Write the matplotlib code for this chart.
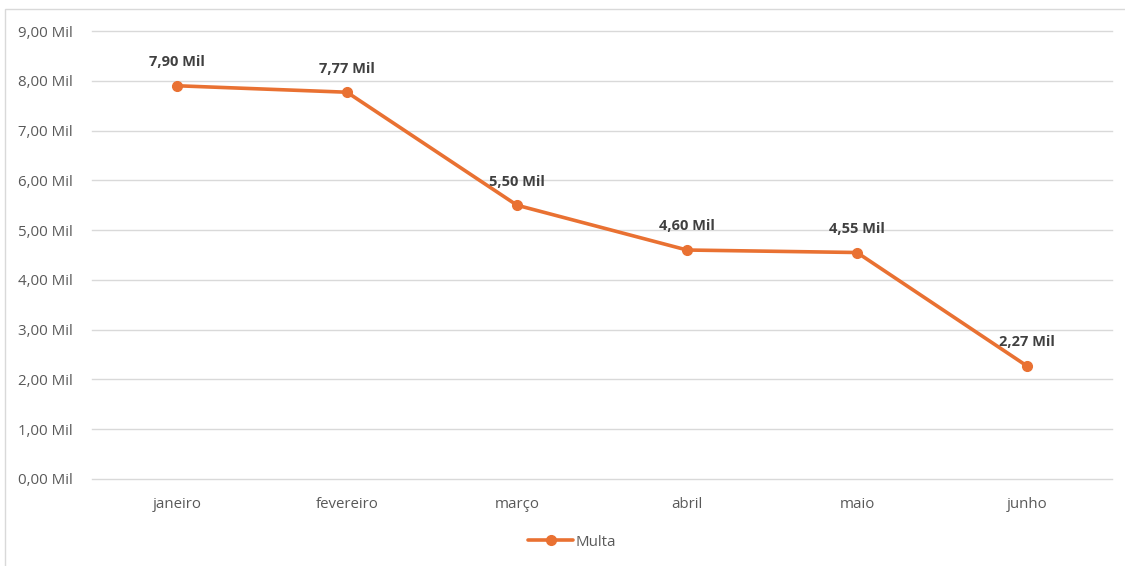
import matplotlib.pyplot as plt
from matplotlib.patches import Rectangle
from matplotlib.ticker import FuncFormatter

# dados
meses = ['janeiro', 'fevereiro', 'março', 'abril', 'maio', 'junho']
multa = [7.90, 7.77, 5.50, 4.60, 4.55, 2.27]  # em milhares

COR = '#E97132'
plt.rcParams['font.family'] = ['Open Sans', 'DejaVu Sans']


def fmt_mil(v, pos=None):
    return f'{v:.2f}'.replace('.', ',') + ' Mil'


fig = plt.figure(figsize=(11.25, 5.66), dpi=100)
ax = fig.add_axes([92 / 1125, 1 - 479 / 566, 1020 / 1125, 448 / 566])

x = list(range(len(meses)))
ax.plot(x, multa, color=COR, linewidth=2.6, marker='o', markersize=7,
        label='Multa', solid_capstyle='round')

for xi, v in zip(x, multa):
    ax.annotate(fmt_mil(v), (xi, v), xytext=(0, 17), textcoords='offset points',
                ha='center', va='center', fontsize=10.5, fontweight='bold',
                color='#404040')

ax.set_xlim(-0.5, len(meses) - 0.5)
ax.set_ylim(0, 9)
ax.set_yticks(range(0, 10))
ax.yaxis.set_major_formatter(FuncFormatter(fmt_mil))
ax.set_xticks(x)
ax.set_xticklabels(meses)
ax.tick_params(axis='both', length=0, labelsize=10.8, colors='#595959')
ax.tick_params(axis='y', pad=14)
ax.tick_params(axis='x', pad=13)
ax.grid(axis='y', color='#D9D9D9', linewidth=1)
for gl in ax.get_ygridlines():
    gl.set_clip_on(False)
ax.set_axisbelow(True)
for s in ax.spines.values():
    s.set_visible(False)

ax.legend(loc='center', bbox_to_anchor=(572 / 1125, 1 - 542 / 566),
          bbox_transform=fig.transFigure, frameon=False, fontsize=10.8,
          labelcolor='#595959', handlelength=3.0, handletextpad=0.15)

# moldura do gráfico
fig.patches.append(Rectangle((5 / 1125, -0.05), 1.1, 1 - 9 / 566 + 0.05,
                             transform=fig.transFigure, fill=False,
                             edgecolor='#D9D9D9', linewidth=1))

fig.savefig('out.png', dpi=100)
